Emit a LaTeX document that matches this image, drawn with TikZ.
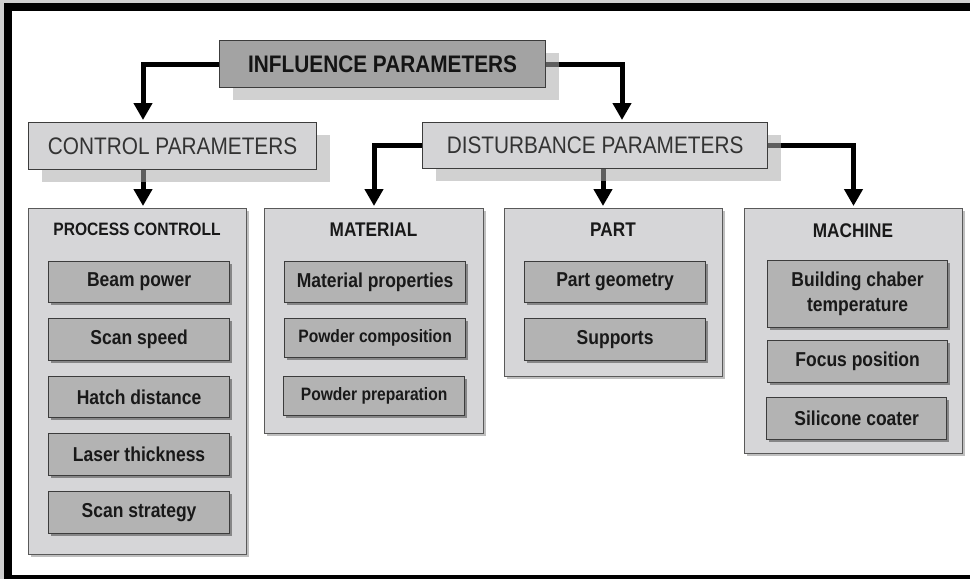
\documentclass[tikz,border=0pt]{standalone}
\usepackage{fontspec}
\setmainfont{Liberation Sans}
\usepackage{graphicx}
\usetikzlibrary{arrows.meta,shadows}
\pgfdeclarelayer{bg}
\pgfdeclarelayer{lines}
\pgfsetlayers{bg,lines,main}

\definecolor{headdark}{HTML}{A3A3A3}
\definecolor{headlight}{HTML}{D4D4D6}
\definecolor{groupfill}{HTML}{D6D6D8}
\definecolor{itemfill}{HTML}{B3B3B3}
\definecolor{edgegray}{HTML}{3C3C3C}
\definecolor{framegray}{HTML}{CFCFCF}

% text set slightly taller than wide
\newcommand{\tallt}[1]{\scalebox{1}[1.15]{#1}}

\tikzset{
  box/.style={rectangle, anchor=north west, inner sep=0pt, draw=edgegray, line width=1.2pt},
  headshadow/.style={drop shadow={shadow xshift=13pt, shadow yshift=-12.5pt, fill=gray!65, opacity=.55}},
  headbox/.style={box, headshadow, font=\fontsize{20.8}{24}\selectfont},
  groupbox/.style={box, fill=groupfill, draw=edgegray!85, line width=1pt,
    drop shadow={shadow xshift=2pt, shadow yshift=-2pt, fill=gray, opacity=.5}},
  itembox/.style={box, fill=itemfill, text=black!90, font=\fontsize{17.5}{21.5}\selectfont\bfseries,
    drop shadow={shadow xshift=2.5pt, shadow yshift=-2.5pt, fill=black!55, opacity=.8}},
  smallitem/.style={font=\fontsize{15.6}{19}\selectfont\bfseries},
  grouptitle/.style={inner sep=0pt, text=black!90, font=\fontsize{17.2}{20}\selectfont\bfseries},
  conn/.style={line width=5pt, black, -{Triangle[width=18pt,length=17pt]}, shorten >=2pt},
}

\begin{document}
\begin{tikzpicture}[x=1pt, y=-1pt]
\useasboundingbox (0,0) rectangle (970,579);

% frame
\begin{pgfonlayer}{bg}
  \fill[framegray] (0,0) rectangle (970,579);
  \fill[black] (4,3) rectangle (970,579);
  \fill[white] (12,10.5) rectangle (970,575);
\end{pgfonlayer}

% header boxes
\node[headbox, fill=headdark, text=black!92, minimum width=326pt, minimum height=47pt]
  (infl) at (219,40) {\tallt{\textbf{INFLUENCE PARAMETERS}}};
\node[headbox, fill=headlight, text=black!80, minimum width=288pt, minimum height=47pt]
  (ctrl) at (28,122) {\tallt{CONTROL PARAMETERS}};
\node[headbox, fill=headlight, text=black!80, minimum width=345pt, minimum height=46pt]
  (dist) at (422,122) {\tallt{DISTURBANCE PARAMETERS}};

% group boxes
\node[groupbox, minimum width=218pt, minimum height=346pt] (pc) at (28,208) {};
\node[groupbox, minimum width=219pt, minimum height=225pt] (mat) at (264,208) {};
\node[groupbox, minimum width=218pt, minimum height=168pt] (part) at (504,208) {};
\node[groupbox, minimum width=218pt, minimum height=245pt] (mach) at (744,208) {};

% group titles
\node[grouptitle, font=\fontsize{15.6}{19}\selectfont\bfseries] (pct) at (137,229) {\tallt{PROCESS CONTROLL}};
\node[grouptitle] (matt) at (373.5,230) {\tallt{MATERIAL}};
\node[grouptitle] (partt) at (613,230) {\tallt{PART}};
\node[grouptitle] (macht) at (853,231) {\tallt{MACHINE}};

% process controll items
\node[itembox, minimum width=181pt, minimum height=41pt] (bp) at (48,261) {\tallt{Beam power}};
\node[itembox, minimum width=181pt, minimum height=42pt] (ss) at (48,318) {\tallt{Scan speed}};
\node[itembox, minimum width=181pt, minimum height=41pt] (hd) at (48,376) {\tallt{Hatch distance}};
\node[itembox, minimum width=181pt, minimum height=42pt] (lt) at (48,433) {\tallt{Laser thickness}};
\node[itembox, minimum width=181pt, minimum height=42pt] (st) at (48,491) {\tallt{Scan strategy}};

% material items
\node[itembox, minimum width=181pt, minimum height=41pt] (mp) at (284,261) {\tallt{Material properties}};
\node[itembox, smallitem, minimum width=181pt, minimum height=39pt] (pcomp) at (284,318) {\tallt{Powder composition}};
\node[itembox, smallitem, minimum width=181pt, minimum height=39pt] (pprep) at (283,376) {\tallt{Powder preparation}};

% part items
\node[itembox, minimum width=181pt, minimum height=41pt] (pg) at (524,261) {\tallt{Part geometry}};
\node[itembox, minimum width=181pt, minimum height=42pt] (sup) at (524,318) {\tallt{Supports}};

% machine items
\node[itembox, minimum width=180pt, minimum height=67pt] (bct) at (767,260)
  {\tallt{\begin{tabular}{@{}c@{}}Building chaber\\temperature\end{tabular}}};
\node[itembox, minimum width=180pt, minimum height=42pt] (fp) at (767,340) {\tallt{Focus position}};
\node[itembox, minimum width=180pt, minimum height=42pt] (sc) at (766,397) {\tallt{Silicone coater}};

% connectors
\begin{pgfonlayer}{lines}
  \draw[conn] (infl.west) -| ([xshift=115pt]ctrl.north west);
  \draw[conn] (infl.east) -| ([xshift=200pt]dist.north west);
  \draw[conn] ([xshift=115pt]ctrl.south west) -- ([xshift=115pt]pc.north west);
  \draw[conn] (dist.west) -| (mat.north);
  \draw[conn] ([xshift=181pt]dist.south west) -- ([xshift=99pt]part.north west);
  \draw[conn] (dist.east) -| (mach.north);
\end{pgfonlayer}
\end{tikzpicture}
\end{document}
